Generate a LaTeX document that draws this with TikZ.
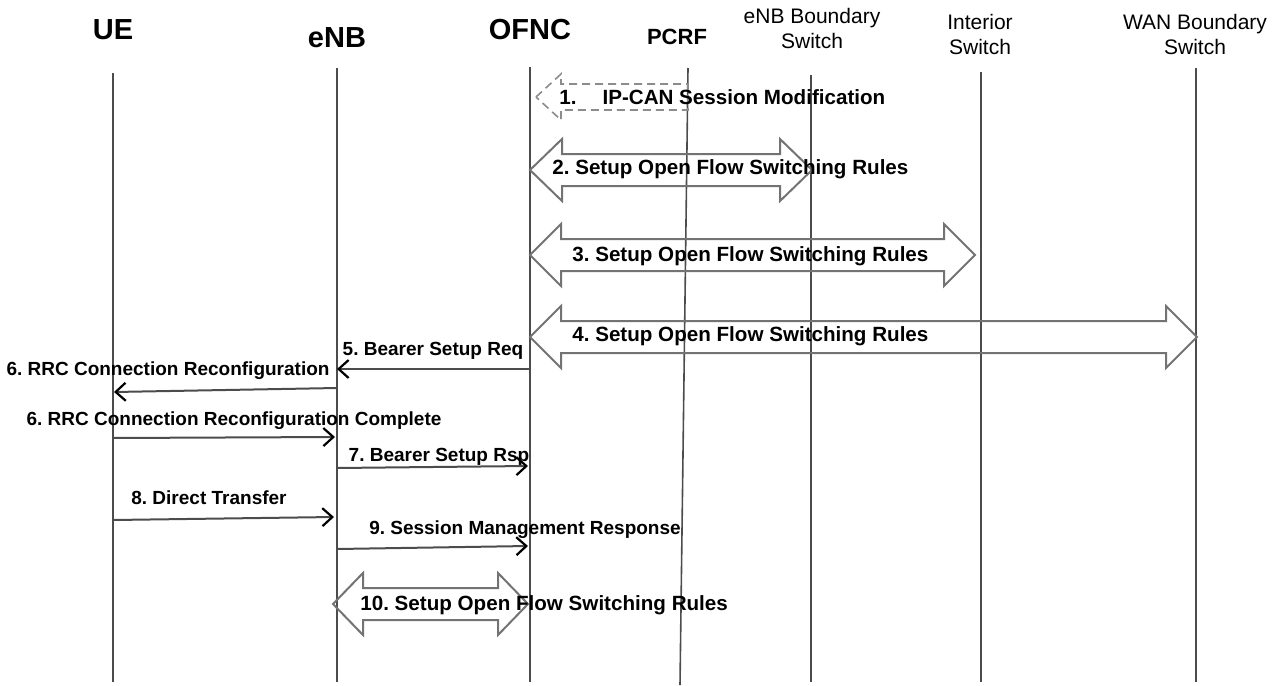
\documentclass[tikz,border=0pt]{standalone}
\usepackage{fontspec}
\setmainfont{Liberation Sans}
\usetikzlibrary{arrows.meta,calc}
\frenchspacing
\begin{document}
\begin{tikzpicture}[x=0.5pt,y=-0.5pt,
    hdr/.style={font=\fontsize{14.5}{16}\selectfont\bfseries},
    swhdr/.style={font=\fontsize{10.5}{12.5}\selectfont,align=center},
    life/.style={draw=black!70,line width=0.8pt},
    msg/.style={draw=black!70,line width=1pt,-{Straight Barb[length=5pt,width=9pt,line width=1.1pt,black]}},
    msgtxt/.style={font=\fontsize{9.5}{11}\selectfont\bfseries,inner sep=0pt},
    lbl/.style={font=\fontsize{10.3}{12}\selectfont\bfseries,inner sep=0pt,anchor=west},
    fatarrow/.style={draw=black!55,line width=1pt,line join=miter}]
  \useasboundingbox (0,0) rectangle (1284,685);
  % entities
  \node[hdr] (ue) at (113,30) {UE};
  \node[hdr] (enb) at (337,38) {eNB};
  \node[hdr] (ofnc) at (530,30) {OFNC};
  \node[font=\fontsize{11}{13}\selectfont\bfseries] (pcrf) at (677,37) {PCRF};
  \node[swhdr] (ebs) at (812,28) {eNB Boundary\\Switch};
  \node[swhdr] (isw) at (980,34) {Interior\\Switch};
  \node[swhdr] (wbs) at (1195,34) {WAN Boundary\\Switch};
  % lifelines
  \coordinate (ue-t) at (113,73);    \coordinate (ue-b) at (113,682);
  \coordinate (enb-t) at (337,68);   \coordinate (enb-b) at (337,682);
  \coordinate (ofnc-t) at (530,67);  \coordinate (ofnc-b) at (530,682);
  \coordinate (pcrf-t) at (688,68);  \coordinate (pcrf-b) at (680,685);
  \coordinate (ebs-t) at (811,75);   \coordinate (ebs-b) at (811,682);
  \coordinate (isw-t) at (981,72);   \coordinate (isw-b) at (981,682);
  \coordinate (wbs-t) at (1196,68);  \coordinate (wbs-b) at (1196,682);
  \foreach \e in {ue,enb,ofnc,pcrf,ebs,isw,wbs}
    \draw[life] (\e-t) -- (\e-b);
  % 1. IP-CAN (dashed)
  \coordinate (a1t) at (536,97);
  \coordinate (a1e) at (688,97);
  \draw[fatarrow,draw=black!45,line width=0.8pt,dash pattern=on 4pt off 2.5pt]
    (a1t) -- ++(25,-23) -- ++(0,10) -- ($(a1e)+(0,-13)$) -- ($(a1e)+(0,13)$)
    -- ($(a1t)+(25,13)$) -- ++(0,10) -- cycle;
  \node[lbl] (l1) at (559,97) {1.\hspace{13pt}IP-CAN Session Modification};
  % 2.
  \coordinate (a2l) at (530,170);
  \coordinate (a2r) at (812,170);
  \draw[fatarrow] (a2l) -- ++(32,-31) -- ++(0,15) -- ($(a2r)+(-32,-16)$) -- ++(0,-15)
    -- (a2r) -- ++(-32,31) -- ++(0,-15) -- ($(a2l)+(32,16)$) -- ++(0,15) -- cycle;
  \node[lbl] (l2) at (552,169) {2. Setup Open Flow Switching Rules};
  % 3.
  \coordinate (a3l) at (530,255);
  \coordinate (a3r) at (975,255);
  \draw[fatarrow] (a3l) -- ++(31,-31) -- ++(0,15) -- ($(a3r)+(-31,-16)$) -- ++(0,-15)
    -- (a3r) -- ++(-31,31) -- ++(0,-15) -- ($(a3l)+(31,16)$) -- ++(0,15) -- cycle;
  \node[lbl] (l3) at (572,256) {3. Setup Open Flow Switching Rules};
  % 4.
  \coordinate (a4l) at (530,337);
  \coordinate (a4r) at (1197,337);
  \draw[fatarrow] (a4l) -- ++(31,-31) -- ++(0,15) -- ($(a4r)+(-31,-16)$) -- ++(0,-15)
    -- (a4r) -- ++(-31,31) -- ++(0,-15) -- ($(a4l)+(31,16)$) -- ++(0,15) -- cycle;
  \node[lbl] (l4) at (572,336) {4. Setup Open Flow Switching Rules};
  % messages
  \coordinate (m5a) at (529,369);  \coordinate (m5b) at (337,369);
  \draw[msg] (m5a) -- (m5b);
  \node[msgtxt] (t5) at (433,351) {5. Bearer Setup Req};
  \coordinate (m6a) at (337,388);  \coordinate (m6b) at (114,392);
  \draw[msg] (m6a) -- (m6b);
  \node[msgtxt] (t6) at (168,371) {6. RRC Connection Reconfiguration};
  \coordinate (m6c) at (113,438);  \coordinate (m6d) at (335,437);
  \draw[msg] (m6c) -- (m6d);
  \node[msgtxt] (t6c) at (234,421) {6. RRC Connection Reconfiguration Complete};
  \coordinate (m7a) at (337,468);  \coordinate (m7b) at (528,466);
  \draw[msg] (m7a) -- (m7b);
  \node[msgtxt] (t7) at (439,457) {7. Bearer Setup Rsp};
  \coordinate (m8a) at (113,520);  \coordinate (m8b) at (334,517);
  \draw[msg] (m8a) -- (m8b);
  \node[msgtxt] (t8) at (209,498) {8. Direct Transfer};
  \coordinate (m9a) at (337,549);  \coordinate (m9b) at (528,546);
  \draw[msg] (m9a) -- (m9b);
  \node[msgtxt] (t9) at (525,530) {9. Session Management Response};
  % 10.
  \coordinate (a10l) at (333,604);
  \coordinate (a10r) at (528,604);
  \draw[fatarrow] (a10l) -- ++(30,-31) -- ++(0,15) -- ($(a10r)+(-30,-16)$) -- ++(0,-15)
    -- (a10r) -- ++(-30,31) -- ++(0,-15) -- ($(a10l)+(30,16)$) -- ++(0,15) -- cycle;
  \node[lbl] (l10) at (360,605) {10. Setup Open Flow Switching Rules};
\end{tikzpicture}
\end{document}
